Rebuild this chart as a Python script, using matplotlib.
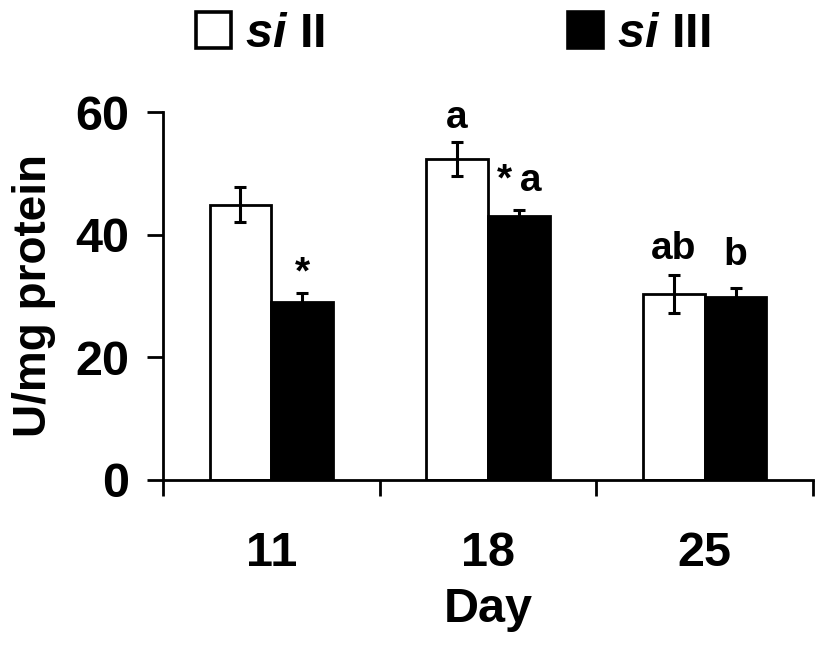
#!/usr/bin/env python3

# Imports

import matplotlib
matplotlib.use("Agg")
import matplotlib.pyplot as plt
from matplotlib.patches import Patch
import numpy as np

# Data

days = ["11", "18", "25"]
si2_mean = [44.9, 52.3, 30.3]
si2_err = [2.8, 2.8, 3.1]
si3_mean = [29.0, 43.1, 29.9]
si3_err = [1.5, 0.9, 1.4]
si2_marks = ["", "a", "ab"]
si3_marks = ["*", "*\u2009a", "b"]

# Style

plt.rcParams["font.family"] = ["Liberation Sans", "DejaVu Sans"]
plt.rcParams["font.weight"] = "bold"
plt.rcParams["mathtext.fontset"] = "custom"
plt.rcParams["mathtext.it"] = "Liberation Sans:italic:bold"
plt.rcParams["mathtext.rm"] = "Liberation Sans:bold"

# label offsets above error bars (points), hand placed in the original
si2_pad = [0, 10, 11.5]
si3_pad = [6.5, 14, 16.5]

lw = 2.0
fig = plt.figure(figsize=(8.25, 6.46), dpi=100)
ax = fig.add_axes([0.1976, 0.257, 0.7879, 0.5696])

x = np.arange(len(days))
w = 0.285
ebar = dict(ecolor="black", elinewidth=2.2, capsize=4, capthick=2.2)
ax.bar(x, si2_mean, width=-w, align="edge", color="white", edgecolor="black", linewidth=lw,
       yerr=si2_err, error_kw=ebar)
ax.bar(x, si3_mean, width=w, align="edge", color="black", edgecolor="black", linewidth=lw,
       yerr=si3_err, error_kw=ebar)

for i in range(len(days)):
	if si2_marks[i]:
		ax.annotate(si2_marks[i], xy=(x[i] - w / 2, si2_mean[i] + si2_err[i]), xytext=(0, si2_pad[i]),
		            textcoords="offset points", ha="center", va="baseline", fontsize=28, fontweight="bold")
	if si3_marks[i]:
		ax.annotate(si3_marks[i], xy=(x[i] + w / 2, si3_mean[i] + si3_err[i]), xytext=(0, si3_pad[i]),
		            textcoords="offset points", ha="center", va="baseline", fontsize=28, fontweight="bold")

ax.set_xlim(-0.5, len(days) - 0.5)
ax.set_ylim(0, 60)
ax.set_yticks([0, 20, 40, 60])
ax.set_xticks(np.arange(-0.5, len(days)), labels=[""] * (len(days) + 1))
ax.set_xticks(x, labels=days, minor=True)

for s in ["top", "right"]:
	ax.spines[s].set_visible(False)
for s in ["left", "bottom"]:
	ax.spines[s].set_linewidth(lw)

ax.tick_params(axis="y", which="major", length=11.5, width=lw, labelsize=35, pad=13)
ax.tick_params(axis="x", which="major", length=11.5, width=lw)
ax.tick_params(axis="x", which="minor", length=0, labelsize=35, pad=37)
for lab in ax.get_xticklabels(minor=True) + ax.get_yticklabels():
	lab.set_fontweight("bold")

ax.set_ylabel("U/mg protein", fontsize=33, fontweight="bold", labelpad=14)
ax.set_xlabel("Day", fontsize=35, fontweight="bold", labelpad=8)

handles = [Patch(facecolor="white", edgecolor="black", linewidth=2.6),
           Patch(facecolor="black", edgecolor="black", linewidth=2.6)]
fig.legend(handles, [r"$si$ II", r"$si$ III"], ncol=2, loc="center",
           bbox_to_anchor=(0.549, 0.947), frameon=False,
           handlelength=0.72, handleheight=0.76, handletextpad=0.29,
           columnspacing=5.0, borderpad=0, borderaxespad=0,
           prop=dict(weight="bold", size=35))

fig.savefig("out.png", dpi=100)
